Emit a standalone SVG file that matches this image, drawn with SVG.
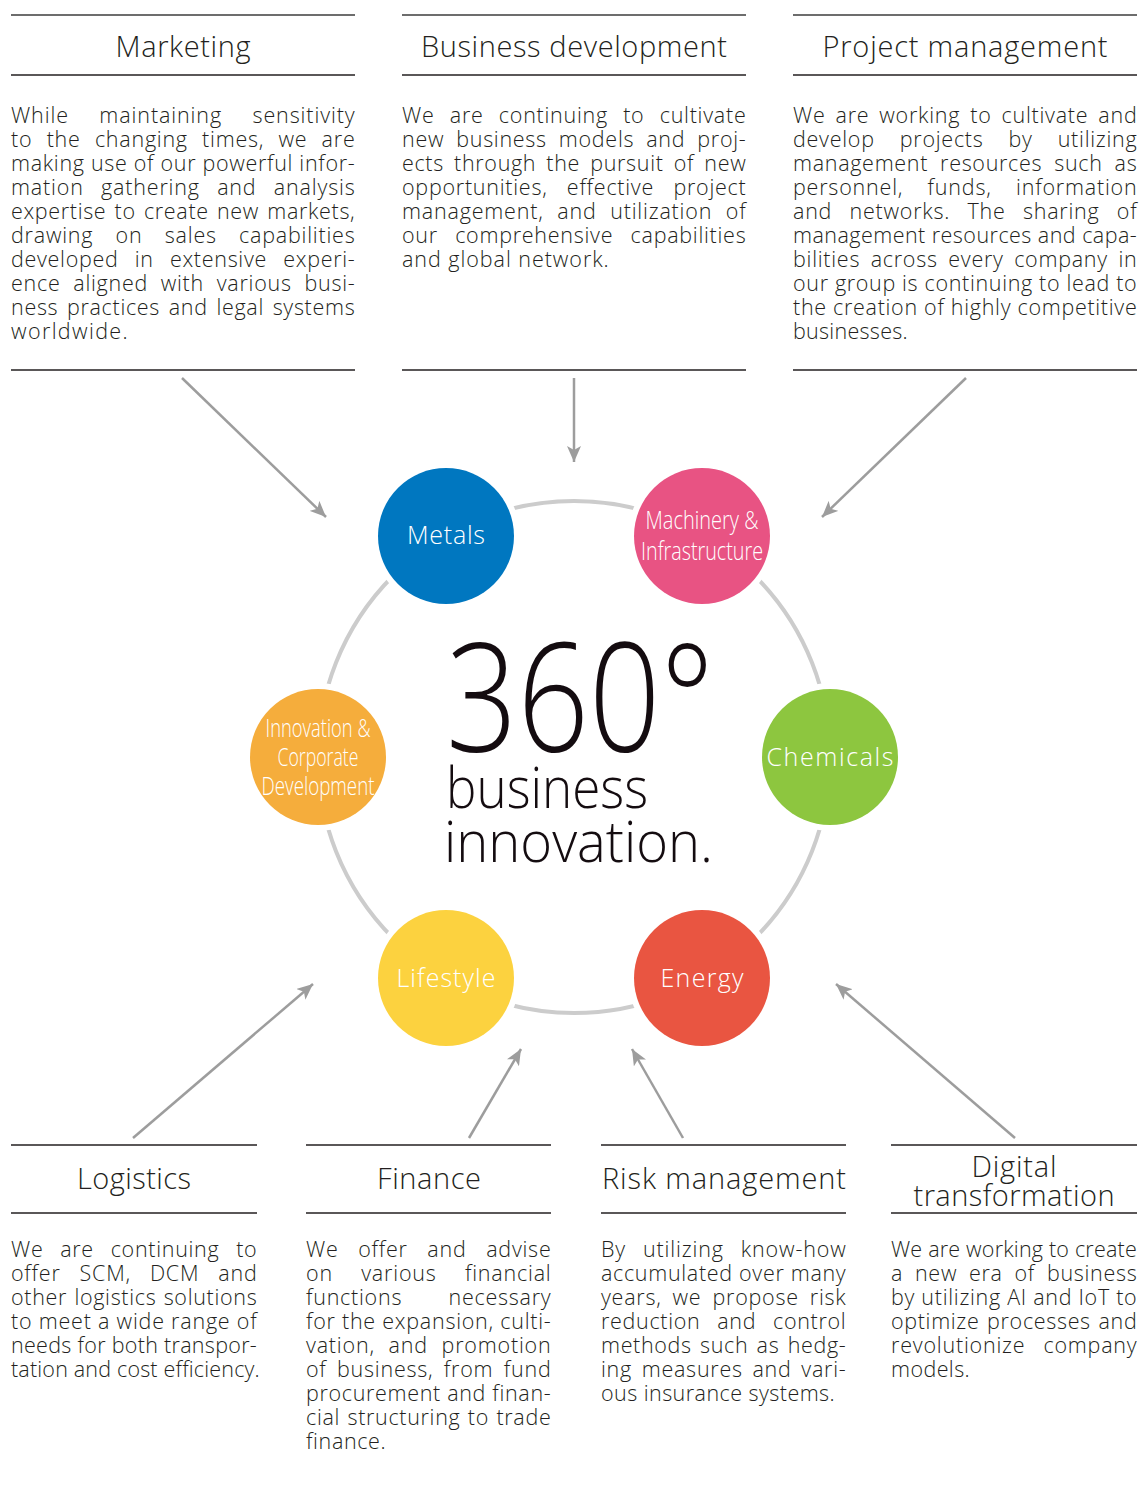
<svg xmlns="http://www.w3.org/2000/svg" width="1139" height="1496" viewBox="0 0 1139 1496">
  <defs>
    <style>
      .h { font-family: "Open Sans", "Liberation Sans", sans-serif; font-weight: 300; font-size: 29px; fill: #231f20; text-anchor: middle; }
      .b { font-family: "Open Sans", "Liberation Sans", sans-serif; font-weight: 300; font-size: 21.5px; letter-spacing: 0.3px; fill: #231f20; }
      .rule { stroke: #231f20; stroke-width: 1.5; }
      .rule-top { stroke: #6d6d6d; stroke-width: 2; }
      .ring { fill: none; stroke: #cccccc; stroke-width: 4; }
      .halo { fill: #ffffff; }
      .lbl { font-family: "Open Sans", "Liberation Sans", sans-serif; font-weight: 300; font-size: 25px; fill: #ffffff; text-anchor: middle; }
      .lbl-c { font-family: "Open Sans", "Liberation Sans", sans-serif; font-weight: 300; font-size: 26px; fill: #ffffff; text-anchor: middle; }
      .big { font-family: "Open Sans", "Liberation Sans", sans-serif; font-weight: 300; fill: #140c10; }
      .arrow { stroke: #9d9d9d; stroke-width: 2.5; fill: none; marker-end: url(#tip); }
    </style>
    <marker id="tip" markerUnits="userSpaceOnUse" markerWidth="18" markerHeight="14" refX="16" refY="7" orient="auto">
      <path d="M0,0 L16,7 L0,14 L4,7 Z" fill="#9d9d9d"/>
    </marker>
  </defs>

  <rect width="1139" height="1496" fill="#ffffff"/>

  <!-- upper panels: justified paragraphs (word gaps widened, then fitted to the column) -->
  <g id="panel-marketing">
    <line class="rule-top" x1="11" y1="15" x2="355" y2="15"/>
    <text class="h" x="183" y="57" textLength="135">Marketing</text>
    <line class="rule" x1="11" y1="75" x2="355" y2="75"/>
    <g class="b">
      <text x="11" y="123" textLength="344" style="word-spacing:24px"><tspan>While</tspan> <tspan>maintaining</tspan> <tspan>sensitivity</tspan></text>
      <text x="11" y="147" textLength="344" style="word-spacing:8px"><tspan>to</tspan> <tspan>the</tspan> <tspan>changing</tspan> <tspan>times,</tspan> <tspan>we</tspan> <tspan>are</tspan></text>
      <text x="11" y="171" textLength="344"><tspan>making</tspan> <tspan>use</tspan> <tspan>of</tspan> <tspan>our</tspan> <tspan>powerful</tspan> <tspan>infor-</tspan></text>
      <text x="11" y="195" textLength="344" style="word-spacing:11px"><tspan>mation</tspan> <tspan>gathering</tspan> <tspan>and</tspan> <tspan>analysis</tspan></text>
      <text x="11" y="219" textLength="344" style="word-spacing:2px"><tspan>expertise</tspan> <tspan>to</tspan> <tspan>create</tspan> <tspan>new</tspan> <tspan>markets,</tspan></text>
      <text x="11" y="243" textLength="344" style="word-spacing:16px"><tspan>drawing</tspan> <tspan>on</tspan> <tspan>sales</tspan> <tspan>capabilities</tspan></text>
      <text x="11" y="267" textLength="344" style="word-spacing:10px"><tspan>developed</tspan> <tspan>in</tspan> <tspan>extensive</tspan> <tspan>experi-</tspan></text>
      <text x="11" y="291" textLength="344" style="word-spacing:6.5px"><tspan>ence</tspan> <tspan>aligned</tspan> <tspan>with</tspan> <tspan>various</tspan> <tspan>busi-</tspan></text>
      <text x="11" y="315" textLength="344" style="word-spacing:2.4px"><tspan>ness</tspan> <tspan>practices</tspan> <tspan>and</tspan> <tspan>legal</tspan> <tspan>systems</tspan></text>
      <text x="11" y="339" textLength="117">worldwide.</text>
    </g>
    <line class="rule" x1="11" y1="370" x2="355" y2="370"/>
  </g>

  <g id="panel-business-development">
    <line class="rule-top" x1="402" y1="15" x2="746" y2="15"/>
    <text class="h" x="574" y="57" textLength="306"><tspan>Business</tspan> <tspan>development</tspan></text>
    <line class="rule" x1="402" y1="75" x2="746" y2="75"/>
    <g class="b">
      <text x="402" y="123" textLength="344" style="word-spacing:9px"><tspan>We</tspan> <tspan>are</tspan> <tspan>continuing</tspan> <tspan>to</tspan> <tspan>cultivate</tspan></text>
      <text x="402" y="147" textLength="344" style="word-spacing:5.8px"><tspan>new</tspan> <tspan>business</tspan> <tspan>models</tspan> <tspan>and</tspan> <tspan>proj-</tspan></text>
      <text x="402" y="171" textLength="344" style="word-spacing:3.9px"><tspan>ects</tspan> <tspan>through</tspan> <tspan>the</tspan> <tspan>pursuit</tspan> <tspan>of</tspan> <tspan>new</tspan></text>
      <text x="402" y="195" textLength="344" style="word-spacing:13px"><tspan>opportunities,</tspan> <tspan>effective</tspan> <tspan>project</tspan></text>
      <text x="402" y="219" textLength="344" style="word-spacing:7.3px"><tspan>management,</tspan> <tspan>and</tspan> <tspan>utilization</tspan> <tspan>of</tspan></text>
      <text x="402" y="243" textLength="344" style="word-spacing:11px"><tspan>our</tspan> <tspan>comprehensive</tspan> <tspan>capabilities</tspan></text>
      <text x="402" y="267" textLength="207"><tspan>and</tspan> <tspan>global</tspan> <tspan>network.</tspan></text>
    </g>
    <line class="rule" x1="402" y1="370" x2="746" y2="370"/>
  </g>

  <g id="panel-project-management">
    <line class="rule-top" x1="793" y1="15" x2="1137" y2="15"/>
    <text class="h" x="965" y="57" textLength="285"><tspan>Project</tspan> <tspan>management</tspan></text>
    <line class="rule" x1="793" y1="75" x2="1137" y2="75"/>
    <g class="b">
      <text x="793" y="123" textLength="344" style="word-spacing:3.7px"><tspan>We</tspan> <tspan>are</tspan> <tspan>working</tspan> <tspan>to</tspan> <tspan>cultivate</tspan> <tspan>and</tspan></text>
      <text x="793" y="147" textLength="344" style="word-spacing:18.7px"><tspan>develop</tspan> <tspan>projects</tspan> <tspan>by</tspan> <tspan>utilizing</tspan></text>
      <text x="793" y="171" textLength="344" style="word-spacing:5.7px"><tspan>management</tspan> <tspan>resources</tspan> <tspan>such</tspan> <tspan>as</tspan></text>
      <text x="793" y="195" textLength="344" style="word-spacing:18px"><tspan>personnel,</tspan> <tspan>funds,</tspan> <tspan>information</tspan></text>
      <text x="793" y="219" textLength="344" style="word-spacing:11px"><tspan>and</tspan> <tspan>networks.</tspan> <tspan>The</tspan> <tspan>sharing</tspan> <tspan>of</tspan></text>
      <text x="793" y="243" textLength="344"><tspan>management</tspan> <tspan>resources</tspan> <tspan>and</tspan> <tspan>capa-</tspan></text>
      <text x="793" y="267" textLength="344" style="word-spacing:4.2px"><tspan>bilities</tspan> <tspan>across</tspan> <tspan>every</tspan> <tspan>company</tspan> <tspan>in</tspan></text>
      <text x="793" y="291" textLength="344"><tspan>our</tspan> <tspan>group</tspan> <tspan>is</tspan> <tspan>continuing</tspan> <tspan>to</tspan> <tspan>lead</tspan> <tspan>to</tspan></text>
      <text x="793" y="315" textLength="344"><tspan>the</tspan> <tspan>creation</tspan> <tspan>of</tspan> <tspan>highly</tspan> <tspan>competitive</tspan></text>
      <text x="793" y="339" textLength="115">businesses.</text>
    </g>
    <line class="rule" x1="793" y1="370" x2="1137" y2="370"/>
  </g>

  <!-- lower panels -->
  <g id="panel-logistics">
    <line class="rule" x1="11" y1="1145" x2="257" y2="1145"/>
    <text class="h" x="134" y="1189" textLength="114">Logistics</text>
    <line class="rule" x1="11" y1="1213" x2="257" y2="1213"/>
    <g class="b">
      <text x="11" y="1257" textLength="246" style="word-spacing:10.5px"><tspan>We</tspan> <tspan>are</tspan> <tspan>continuing</tspan> <tspan>to</tspan></text>
      <text x="11" y="1281" textLength="246" style="word-spacing:12.7px"><tspan>offer</tspan> <tspan>SCM,</tspan> <tspan>DCM</tspan> <tspan>and</tspan></text>
      <text x="11" y="1305" textLength="246" style="word-spacing:1px"><tspan>other</tspan> <tspan>logistics</tspan> <tspan>solutions</tspan></text>
      <text x="11" y="1329" textLength="246"><tspan>to</tspan> <tspan>meet</tspan> <tspan>a</tspan> <tspan>wide</tspan> <tspan>range</tspan> <tspan>of</tspan></text>
      <text x="11" y="1353" textLength="246"><tspan>needs</tspan> <tspan>for</tspan> <tspan>both</tspan> <tspan>transpor-</tspan></text>
      <text x="11" y="1377" textLength="249"><tspan>tation</tspan> <tspan>and</tspan> <tspan>cost</tspan> <tspan>efficiency.</tspan></text>
    </g>
  </g>

  <g id="panel-finance">
    <line class="rule" x1="306" y1="1145" x2="551" y2="1145"/>
    <text class="h" x="429" y="1189" textLength="104">Finance</text>
    <line class="rule" x1="306" y1="1213" x2="551" y2="1213"/>
    <g class="b">
      <text x="306" y="1257" textLength="245" style="word-spacing:13.4px"><tspan>We</tspan> <tspan>offer</tspan> <tspan>and</tspan> <tspan>advise</tspan></text>
      <text x="306" y="1281" textLength="245" style="word-spacing:21.9px"><tspan>on</tspan> <tspan>various</tspan> <tspan>financial</tspan></text>
      <text x="306" y="1305" textLength="245" style="word-spacing:40px"><tspan>functions</tspan> <tspan>necessary</tspan></text>
      <text x="306" y="1329" textLength="245"><tspan>for</tspan> <tspan>the</tspan> <tspan>expansion,</tspan> <tspan>culti-</tspan></text>
      <text x="306" y="1353" textLength="245" style="word-spacing:7.4px"><tspan>vation,</tspan> <tspan>and</tspan> <tspan>promotion</tspan></text>
      <text x="306" y="1377" textLength="245" style="word-spacing:4.1px"><tspan>of</tspan> <tspan>business,</tspan> <tspan>from</tspan> <tspan>fund</tspan></text>
      <text x="306" y="1401" textLength="245"><tspan>procurement</tspan> <tspan>and</tspan> <tspan>finan-</tspan></text>
      <text x="306" y="1425" textLength="245" style="word-spacing:1.2px"><tspan>cial</tspan> <tspan>structuring</tspan> <tspan>to</tspan> <tspan>trade</tspan></text>
      <text x="306" y="1449" textLength="80">finance.</text>
    </g>
  </g>

  <g id="panel-risk-management">
    <line class="rule" x1="601" y1="1145" x2="846" y2="1145"/>
    <text class="h" x="724" y="1189" textLength="244"><tspan>Risk</tspan> <tspan>management</tspan></text>
    <line class="rule" x1="601" y1="1213" x2="846" y2="1213"/>
    <g class="b">
      <text x="601" y="1257" textLength="245" style="word-spacing:10.5px"><tspan>By</tspan> <tspan>utilizing</tspan> <tspan>know-how</tspan></text>
      <text x="601" y="1281" textLength="245"><tspan>accumulated</tspan> <tspan>over</tspan> <tspan>many</tspan></text>
      <text x="601" y="1305" textLength="245" style="word-spacing:4.8px"><tspan>years,</tspan> <tspan>we</tspan> <tspan>propose</tspan> <tspan>risk</tspan></text>
      <text x="601" y="1329" textLength="245" style="word-spacing:10.6px"><tspan>reduction</tspan> <tspan>and</tspan> <tspan>control</tspan></text>
      <text x="601" y="1353" textLength="245" style="word-spacing:2.1px"><tspan>methods</tspan> <tspan>such</tspan> <tspan>as</tspan> <tspan>hedg-</tspan></text>
      <text x="601" y="1377" textLength="245" style="word-spacing:3.4px"><tspan>ing</tspan> <tspan>measures</tspan> <tspan>and</tspan> <tspan>vari-</tspan></text>
      <text x="601" y="1401" textLength="234"><tspan>ous</tspan> <tspan>insurance</tspan> <tspan>systems.</tspan></text>
    </g>
  </g>

  <g id="panel-digital-transformation">
    <line class="rule" x1="891" y1="1145" x2="1137" y2="1145"/>
    <text class="h" x="1014" y="1177" textLength="85">Digital</text>
    <text class="h" x="1014" y="1206" textLength="201">transformation</text>
    <line class="rule" x1="891" y1="1213" x2="1137" y2="1213"/>
    <g class="b">
      <text x="891" y="1257" textLength="246"><tspan>We</tspan> <tspan>are</tspan> <tspan>working</tspan> <tspan>to</tspan> <tspan>create</tspan></text>
      <text x="891" y="1281" textLength="246" style="word-spacing:5.6px"><tspan>a</tspan> <tspan>new</tspan> <tspan>era</tspan> <tspan>of</tspan> <tspan>business</tspan></text>
      <text x="891" y="1305" textLength="246"><tspan>by</tspan> <tspan>utilizing</tspan> <tspan>AI</tspan> <tspan>and</tspan> <tspan>IoT</tspan> <tspan>to</tspan></text>
      <text x="891" y="1329" textLength="246" style="word-spacing:1.4px"><tspan>optimize</tspan> <tspan>processes</tspan> <tspan>and</tspan></text>
      <text x="891" y="1353" textLength="246" style="word-spacing:11.6px"><tspan>revolutionize</tspan> <tspan>company</tspan></text>
      <text x="891" y="1377" textLength="79">models.</text>
    </g>
  </g>

  <!-- connecting ring behind the business circles -->
  <circle class="ring" cx="574" cy="757" r="256"/>

  <!-- centre heading -->
  <g id="headline">
    <text class="big" x="446" y="752" font-size="152" textLength="268" lengthAdjust="spacingAndGlyphs">360°</text>
    <text class="big" x="446" y="808" font-size="57" textLength="202" lengthAdjust="spacingAndGlyphs">business</text>
    <text class="big" x="444" y="862" font-size="57" textLength="269" lengthAdjust="spacingAndGlyphs">innovation.</text>
  </g>

  <!-- business circles -->
  <g id="node-metals">
    <circle class="halo" cx="446" cy="536" r="74"/>
    <circle cx="446" cy="536" r="68" fill="#0077c0"/>
    <text class="lbl" x="446" y="544" textLength="78">Metals</text>
  </g>
  <g id="node-machinery">
    <circle class="halo" cx="702" cy="536" r="74"/>
    <circle cx="702" cy="536" r="68" fill="#e85383"/>
    <text class="lbl-c" x="702" y="529" textLength="113" lengthAdjust="spacingAndGlyphs">Machinery &amp;</text>
    <text class="lbl-c" x="702" y="560" textLength="122" lengthAdjust="spacingAndGlyphs">Infrastructure</text>
  </g>
  <g id="node-chemicals">
    <circle class="halo" cx="830" cy="757" r="74"/>
    <circle cx="830" cy="757" r="68" fill="#8dc63f"/>
    <text class="lbl" x="830" y="766" textLength="127">Chemicals</text>
  </g>
  <g id="node-energy">
    <circle class="halo" cx="702" cy="978" r="74"/>
    <circle cx="702" cy="978" r="68" fill="#e95541"/>
    <text class="lbl" x="702" y="987" textLength="83">Energy</text>
  </g>
  <g id="node-lifestyle">
    <circle class="halo" cx="446" cy="978" r="74"/>
    <circle cx="446" cy="978" r="68" fill="#fcd23f"/>
    <text class="lbl" x="446" y="987" textLength="99">Lifestyle</text>
  </g>
  <g id="node-innovation">
    <circle class="halo" cx="318" cy="757" r="74"/>
    <circle cx="318" cy="757" r="68" fill="#f5ad3c"/>
    <text class="lbl-c" x="318" y="737" textLength="105" lengthAdjust="spacingAndGlyphs">Innovation &amp;</text>
    <text class="lbl-c" x="318" y="766" textLength="81" lengthAdjust="spacingAndGlyphs">Corporate</text>
    <text class="lbl-c" x="318" y="795" textLength="113" lengthAdjust="spacingAndGlyphs">Development</text>
  </g>

  <!-- connectors from the function panels -->
  <g id="connectors">
    <line class="arrow" x1="182" y1="378" x2="326" y2="517"/>
    <line class="arrow" x1="574" y1="378" x2="574" y2="462"/>
    <line class="arrow" x1="966" y1="378" x2="822" y2="517"/>
    <line class="arrow" x1="133" y1="1138" x2="313" y2="984"/>
    <line class="arrow" x1="469" y1="1138" x2="521" y2="1049"/>
    <line class="arrow" x1="683" y1="1138" x2="632" y2="1049"/>
    <line class="arrow" x1="1015" y1="1138" x2="836" y2="984"/>
  </g>
</svg>
